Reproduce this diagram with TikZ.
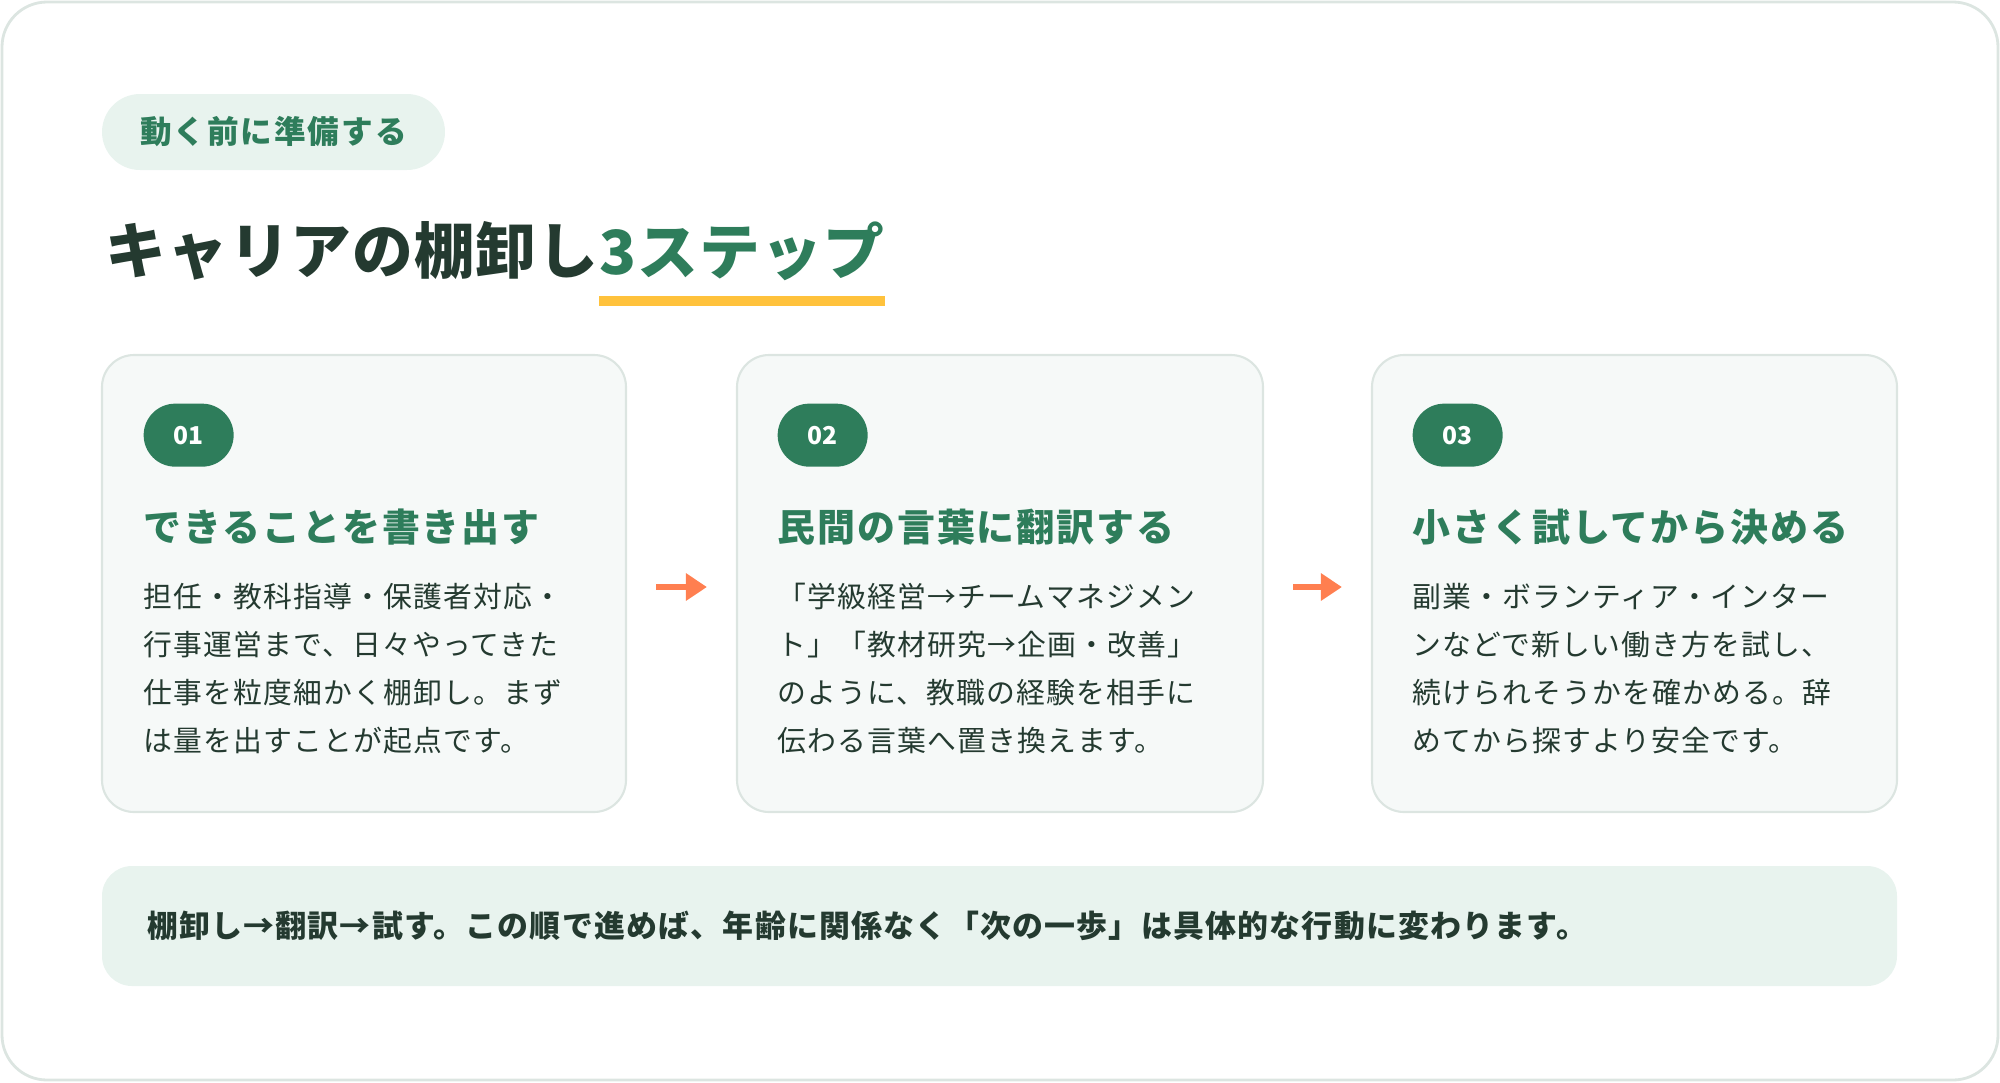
\documentclass[tikz,border=0pt]{standalone}
\usepackage{fontspec}
\setmainfont{Noto Sans CJK JP}
\usetikzlibrary{positioning,arrows.meta}

\definecolor{leaf}{HTML}{2E7D5B}
\definecolor{ink}{HTML}{243A30}
\definecolor{mint}{HTML}{E8F3EE}
\definecolor{paper}{HTML}{F6F9F8}
\definecolor{rim}{HTML}{DCE5E1}
\definecolor{coral}{HTML}{FF7F50}
\definecolor{honey}{HTML}{FFC23C}

\newcommand{\fs}[2]{\fontsize{#1}{#2}\selectfont}
\newcommand{\spaced}[1]{\addfontfeature{LetterSpace=#1}}

\begin{document}
\begin{tikzpicture}[x=1cm, y=-1cm,
    card/.style={draw=rim, fill=paper, line width=0.6pt, rounded corners=0.32cm, minimum width=5.25cm, minimum height=4.57cm},
    badge/.style={fill=leaf, text=white, rounded corners=0.315cm, minimum height=0.63cm, minimum width=0.9cm, font=\fs{7}{8}\bfseries},
    head/.style={text=leaf, inner sep=0pt, anchor=west, font={\fs{10.8}{12}\bfseries\spaced{5}}},
    body/.style={text=ink, inner sep=0pt, anchor=west, align=left, font={\fs{8.2}{13.65}\spaced{4}}},
    flow/.style={-{Triangle[length=6pt,width=7.5pt]}, coral, line width=1.5pt, shorten <=0.29cm, shorten >=0.29cm}
  ]
    \useasboundingbox (0,0) rectangle (20,10.82);
    \draw[rim, line width=0.8pt, rounded corners=0.45cm] (0.02,0.02) rectangle (19.98,10.80);

    % header
    \node (tag) [fill=mint, text=leaf, rounded corners=0.38cm, minimum width=3.43cm, minimum height=0.76cm, font={\fs{9}{10}\bfseries\spaced{6}}] at (2.735,1.32) {動く前に準備する};
    \node (title) [anchor=west, inner sep=0pt, text=ink, font={\fs{17.3}{19}\bfseries\spaced{1.5}}] at (1.05,2.51) {キャリアの棚卸し};
    \node (title3) [right=0pt of title, inner sep=0pt, text=leaf, font={\fs{17.3}{19}\bfseries\spaced{1.5}}] {3ステップ};
    \coordinate (uline) at (0,2.96);
    \fill[honey] (title3.west |- uline) rectangle ([yshift=-0.1cm]title3.east |- uline);

    % steps
    \node (card1) [card, minimum width=5.24cm] at (3.64,5.835) {};
    \node (card2) [card, minimum width=5.26cm] at (10.0,5.835) {};
    \node (card3) [card] at (16.345,5.835) {};

    \node (num1) [badge, below right=0.49cm and 0.42cm of card1.north west] {01};
    \node (num2) [badge, below right=0.49cm and 0.41cm of card2.north west] {02};
    \node (num3) [badge, below right=0.49cm and 0.41cm of card3.north west] {03};

    \node (head1) [head] at ([yshift=-0.6cm]num1.south west) {できることを書き出す};
    \node (head2) [head] at ([yshift=-0.6cm]num2.south west) {民間の言葉に翻訳する};
    \node (head3) [head] at ([yshift=-0.6cm]num3.south west) {小さく試してから決める};

    \node (text1) [body] at ([yshift=-1.41cm]head1.west) {担任・教科指導・保護者対応・\\行事運営まで、日々やってきた\\仕事を粒度細かく棚卸し。まず\\は量を出すことが起点です。};
    \node (text2) [body] at ([yshift=-1.41cm]head2.west) {「学級経営→チームマネジメン\\ト」「教材研究→企画・改善」\\のように、教職の経験を相手に\\伝わる言葉へ置き換えます。};
    \node (text3) [body] at ([yshift=-1.41cm]head3.west) {副業・ボランティア・インター\\ンなどで新しい働き方を試し、\\続けられそうかを確かめる。辞\\めてから探すより安全です。};

    \draw[flow] ([yshift=-0.035cm]card1.east) -- ([yshift=-0.035cm]card2.west);
    \draw[flow] ([yshift=-0.035cm]card2.east) -- ([yshift=-0.035cm]card3.west);

    % summary
    \node (note) [fill=mint, rounded corners=0.3cm, minimum width=17.95cm, minimum height=1.2cm] at (9.995,9.26) {};
    \node (notetext) [anchor=west, inner sep=0pt, text=ink, font={\fs{8.8}{10}\bfseries\spaced{4}}] at ([xshift=0.45cm]note.west) {棚卸し→翻訳→試す。この順で進めば、年齢に関係なく「次の一歩」は具体的な行動に変わります。};
\end{tikzpicture}
\end{document}
